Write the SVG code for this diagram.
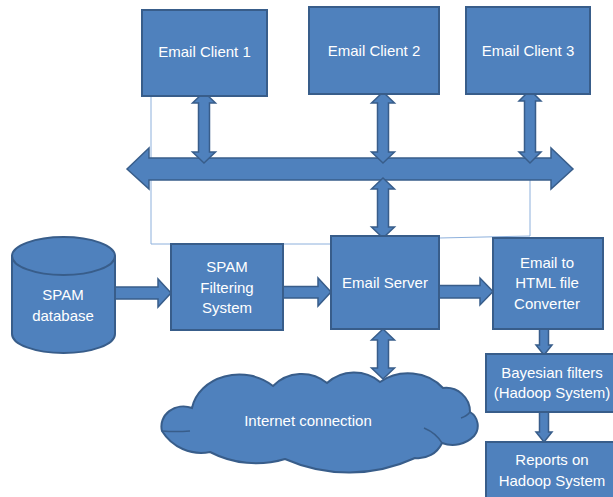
<svg xmlns="http://www.w3.org/2000/svg" width="613" height="497" viewBox="0 0 613 497">
<style>
.box{fill:#4F81BD;stroke:#385D8A;stroke-width:2}
.arr{fill:#4F81BD;stroke:#385D8A;stroke-width:1.5;stroke-linejoin:miter}
.thin{fill:none;stroke:#8DB0DC;stroke-width:1}
.inner{fill:none;stroke:#385D8A;stroke-width:1.5}
text{font-family:"Liberation Sans",Arial,sans-serif;font-size:15px;fill:#FFFFFF;text-anchor:middle}
</style>
<rect width="613" height="497" fill="#FFFFFF"/>
<g id="internet">
<path class="box" d="M162,431 A22,20 0 0 1 192,408 A48,40 0 0 1 273,386 A40,40 0 0 1 327,383 A40,40 0 0 1 380,382 A45,40 0 0 1 443,388 A24,24 0 0 1 470,412 A16,16 0 0 1 474,436 A30,30 0 0 1 442,443 A26,26 0 0 1 415,458 A158,158 0 0 1 285,459 A100,100 0 0 1 210,452 A46,46 0 0 1 162,431 Z"/>
<path class="inner" d="M162,431 Q175,432 190,431"/>
<path class="inner" d="M442,443 Q436,433 424,428"/>
<path class="inner" d="M470,412 Q467,416 461,418"/>
<text x="308" y="426">Internet connection</text>
</g>
<g id="connectors">
<polyline class="thin" points="151,96 151,244 331,244"/>
<polyline class="thin" points="439,238 530,236 530,180"/>
<polygon class="arr" points="127,169 149,148 149,158 551,158 551,148 573,169 551,189 551,180 149,180 149,189"/>
<polygon class="arr" points="204,92 215.5,103 209.5,103 209.5,152 215.5,152 204,163 192.5,152 198.5,152 198.5,103 192.5,103"/>
<polygon class="arr" points="383,92 394.5,103 388.5,103 388.5,152 394.5,152 383,163 371.5,152 377.5,152 377.5,103 371.5,103"/>
<polygon class="arr" points="530,90 541,101 535.5,101 535.5,152 541,152 530,163 519,152 524.5,152 524.5,101 519,101"/>
<polygon class="arr" points="383,178 394.5,189 388.5,189 388.5,227 394.5,227 383,238 371.5,227 377.5,227 377.5,189 371.5,189"/>
<polygon class="arr" points="383,329 394.5,340 388.5,340 388.5,368 394.5,368 383,379 371.5,368 377.5,368 377.5,340 371.5,340"/>
<polygon class="arr" points="115,287 158,287 158,279 171,293 158,307 158,299 115,299"/>
<polygon class="arr" points="283,286.5 318,286.5 318,278 331,292 318,306 318,298 283,298"/>
<polygon class="arr" points="439,285.5 480,285.5 480,278 493,291.5 480,305 480,298 439,298"/>
<polygon class="arr" points="539.5,329 548.5,329 548.5,345 552,345 544,355 536,345 539.5,345"/>
<polygon class="arr" points="539.5,412 548.5,412 548.5,432 552,432 544,442 536,432 539.5,432"/>
</g>
<g id="client1"><rect class="box" x="142" y="10" width="125" height="86"/><text x="204.5" y="57">Email Client 1</text></g>
<g id="client2"><rect class="box" x="309" y="7" width="130" height="87"/><text x="374" y="56">Email Client 2</text></g>
<g id="client3"><rect class="box" x="466" y="7" width="124" height="87"/><text x="528" y="56">Email Client 3</text></g>
<g id="spamdb">
<path class="box" d="M12,256 A51.5,19 0 0 1 115,256 L115,334 A51.5,19 0 0 1 12,334 Z"/>
<path class="box" d="M12,256 A51.5,19 0 0 0 115,256" fill="none"/>
<text x="63" y="300">SPAM</text><text x="63" y="321">database</text>
</g>
<g id="filter"><rect class="box" x="171" y="244" width="112" height="86"/>
<text x="227" y="272">SPAM</text><text x="227" y="293">Filtering</text><text x="227" y="313">System</text></g>
<g id="server"><rect class="box" x="331" y="236" width="108" height="93"/><text x="385" y="288">Email Server</text></g>
<g id="converter"><rect class="box" x="493" y="238" width="110" height="91"/>
<text x="547" y="268">Email to</text><text x="547" y="288">HTML file</text><text x="547" y="309">Converter</text></g>
<g id="bayesian"><rect class="box" x="486" y="354" width="132" height="58"/>
<text x="552" y="378">Bayesian filters</text><text x="552" y="398">(Hadoop System)</text></g>
<g id="reports"><rect class="box" x="486" y="442" width="132" height="60"/>
<text x="552" y="465">Reports on</text><text x="552" y="486">Hadoop System</text></g>
</svg>
